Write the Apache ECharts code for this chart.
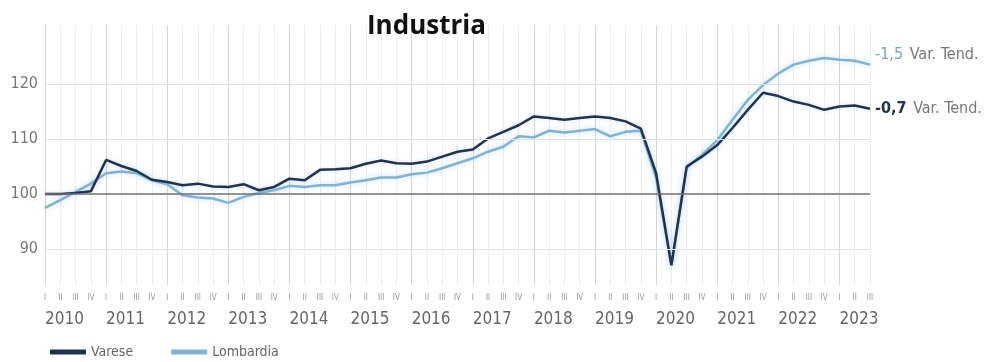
<!DOCTYPE html>
<html>
<head>
<meta charset="utf-8">
<script src="https://cdn.jsdelivr.net/npm/echarts@6/dist/echarts.min.js"></script>
<style>
html,body{margin:0;padding:0;background:#fff;}
#chart{width:985px;height:362px;}
</style>
</head>
<body>
<div id="chart"></div>
<script>
const years = [2010,2011,2012,2013,2014,2015,2016,2017,2018,2019,2020,2021,2022,2023];
const quarterLabels = ['I','II','III','IV'];
const yTickLabels = [90,100,110,120];

const varese = [
  100.0,100.0,100.2,100.5,
  106.2,105.1,104.2,102.6,
  102.2,101.6,101.9,101.4,
  101.3,101.8,100.7,101.3,
  102.8,102.5,104.4,104.5,
  104.7,105.5,106.1,105.6,
  105.5,105.9,106.8,107.7,
  108.1,110.1,111.3,112.5,
  114.1,113.8,113.5,113.8,
  114.1,113.8,113.2,111.9,
  103.8,87.1,105.0,106.8,
  108.9,112.0,115.3,118.4,
  117.8,116.8,116.2,115.3,
  115.9,116.1,115.5
];
const lombardia = [
  97.5,98.9,100.4,101.9,
  103.8,104.1,103.8,102.5,
  101.8,99.8,99.4,99.2,
  98.4,99.5,100.2,100.7,
  101.5,101.3,101.6,101.6,
  102.1,102.5,103.0,103.0,
  103.6,103.9,104.7,105.6,
  106.5,107.7,108.6,110.5,
  110.3,111.5,111.2,111.5,
  111.8,110.5,111.3,111.5,
  103.0,87.0,104.8,107.1,
  109.8,113.5,117.1,119.8,
  121.9,123.5,124.2,124.7,
  124.4,124.2,123.5
];
const trendLombardia = '-1,5';
const trendVarese = '-0,7';
const trendText = 'Var. Tend.';

const categories = [];
years.forEach(y => quarterLabels.forEach(q => categories.push(y + ' ' + q)));
categories.length = varese.length;

const FONT = "'Liberation Sans Narrow','DejaVu Sans Condensed','Roboto Condensed','Noto Sans',sans-serif";
const cDark = '#1f3352';
const cLight = '#7db4d6';

const chart = echarts.init(document.getElementById('chart'), null, {renderer:'canvas'});
chart.setOption({
  animation: false,
  backgroundColor: '#fff',
  title: {
    text: 'Industria',
    left: 362, top: 9,
    textStyle: {fontFamily: "'Open Sans',sans-serif", fontWeight: 'bold', fontSize: 26, color: '#111'}
  },
  legend: {
    left: 45, top: 340,
    icon: 'rect', itemWidth: 36, itemHeight: 5, itemGap: 38,
    data: ['Varese','Lombardia'],
    textStyle: {fontFamily: FONT, fontSize: 14, color: '#666'}
  },
  grid: {left: 45, right: 115, top: 25, bottom: 77, containLabel: false},
  xAxis: [
    {
      type: 'category', data: categories, boundaryGap: false,
      axisLine: {show: false}, axisTick: {show: false},
      axisLabel: {interval: 0, margin: 9, fontSize: 8, color: '#999', fontFamily: FONT,
        formatter: (v, i) => quarterLabels[i % 4]},
      splitLine: {show: true, interval: 0, lineStyle: {color: '#eeeeee', width: 1}}
    },
    {
      type: 'category', data: categories, boundaryGap: false, position: 'bottom',
      axisLine: {show: false}, axisTick: {show: false},
      axisLabel: {interval: (i) => i % 4 === 0, margin: 26, align: 'left', fontSize: 17,
        color: '#666', fontFamily: FONT,
        formatter: (v, i) => v.split(' ')[0]},
      splitLine: {show: true, interval: (i) => i % 4 === 0, lineStyle: {color: '#d6d6d6', width: 1}}
    }
  ],
  yAxis: {
    type: 'value', min: 83.5, max: 130.7,
    axisLine: {show: false}, axisTick: {show: false},
    splitLine: {show: false},
    axisLabel: {margin: 7, fontSize: 16, color: '#777', fontFamily: FONT,
      showMinLabel: false, showMaxLabel: false,
      formatter: v => yTickLabels.indexOf(v) >= 0 ? String(v) : ''}
  },
  series: [
    {
      name: 'grid', type: 'line', data: varese, z: 1, silent: true,
      showSymbol: false, lineStyle: {opacity: 0},
      markLine: {
        silent: true, symbol: 'none', label: {show: false},
        data: [
          {yAxis: 90, lineStyle: {color: '#e2e2e2', width: 1, type: 'solid'}},
          {yAxis: 110, lineStyle: {color: '#e2e2e2', width: 1, type: 'solid'}},
          {yAxis: 120, lineStyle: {color: '#e2e2e2', width: 1, type: 'solid'}},
          {yAxis: 100, lineStyle: {color: '#707070', width: 1.5, type: 'solid'}}
        ]
      }
    },
    {
      name: 'Lombardia', type: 'line', data: lombardia, z: 3,
      showSymbol: false, color: cLight,
      lineStyle: {width: 2.5, color: cLight, shadowColor: 'rgba(150,200,235,0.6)', shadowBlur: 6},
      endLabel: {show: true, offset: [0, -10], distance: 5,
        formatter: '{v|' + trendLombardia + '}  {t|' + trendText + '}',
        rich: {
          v: {color: '#6ea6c9', fontSize: 16, fontFamily: FONT},
          t: {color: '#777', fontSize: 16, fontFamily: FONT}
        }}
    },
    {
      name: 'Varese', type: 'line', data: varese, z: 4,
      showSymbol: false, color: cDark,
      lineStyle: {width: 2.5, color: cDark, shadowColor: 'rgba(150,190,225,0.4)', shadowBlur: 4},
      endLabel: {show: true, offset: [0, 0], distance: 5,
        formatter: '{v|' + trendVarese + '}  {t|' + trendText + '}',
        rich: {
          v: {color: cDark, fontSize: 16, fontWeight: 'bold', fontFamily: FONT},
          t: {color: '#777', fontSize: 16, fontFamily: FONT}
        }}
    }
  ]
});
</script>
</body>
</html>
